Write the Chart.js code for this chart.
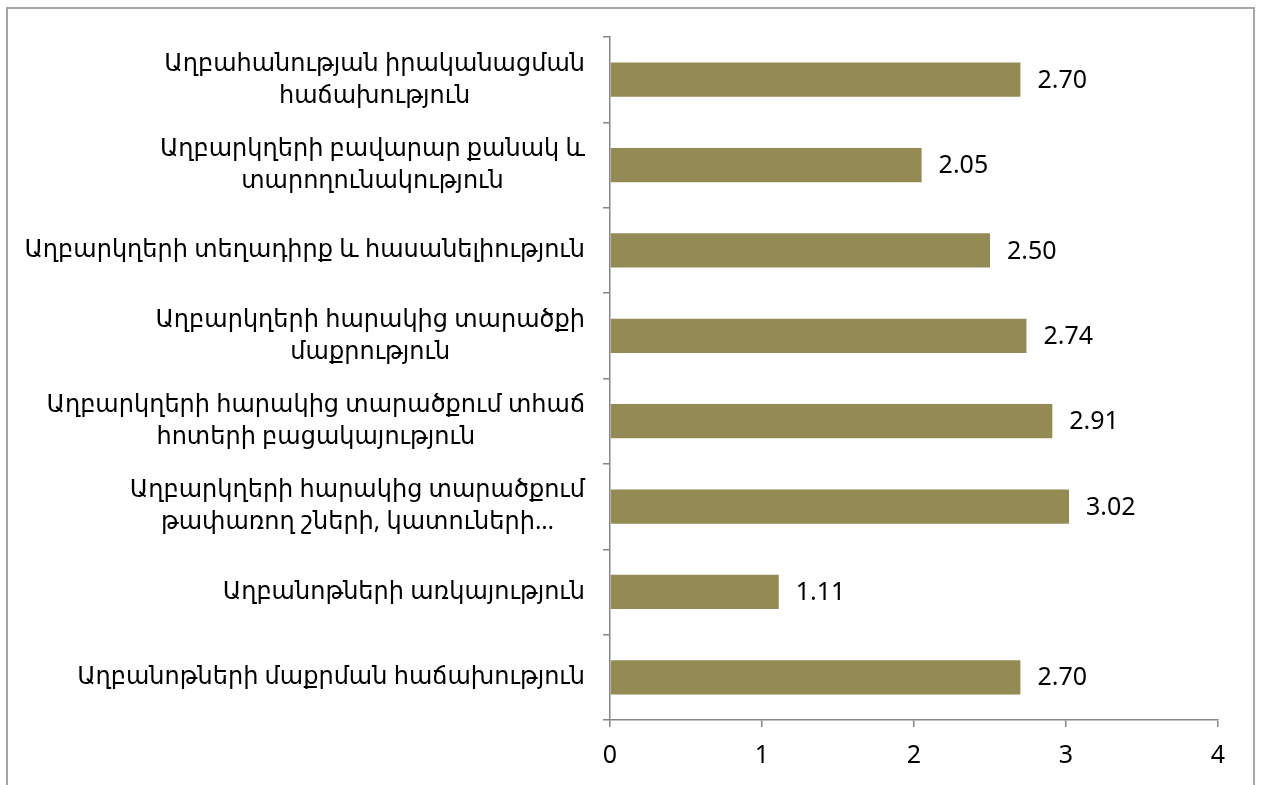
<!DOCTYPE html>
<html>
<head>
<meta charset="utf-8">
<script src="https://cdn.jsdelivr.net/npm/chart.js@4/dist/chart.umd.min.js"></script>
<style>
    html, body { margin: 0; padding: 0; background: #ffffff; }
    #wrap { width: 1262px; height: 785px; }
</style>
</head>
<body>
<div id="wrap"><canvas id="barChart" width="1262" height="785"></canvas></div>
<script>
// categories (top to bottom), each line of a label is an array item
const categories = [
    [`Աղբահանության իրականացման`, `հաճախություն`],
    [`Աղբարկղերի բավարար քանակ և`, `տարողունակություն`],
    [`Աղբարկղերի տեղադիրք և հասանելիություն`],
    [`Աղբարկղերի հարակից տարածքի`, `մաքրություն`],
    [`Աղբարկղերի հարակից տարածքում տհաճ`, `հոտերի բացակայություն`],
    [`Աղբարկղերի հարակից տարածքում`, `թափառող շների, կատուների…`],
    [`Աղբանոթների առկայություն`],
    [`Աղբանոթների մաքրման հաճախություն`]
]
const values = [2.70, 2.05, 2.50, 2.74, 2.91, 3.02, 1.11, 2.70]
const xTicks = [0, 1, 2, 3, 4]
//
const barColor = `#948A54`
const axisColor = `#868686`
const labelFont = `24px "Noto Sans", "DejaVu Sans", sans-serif`
const numberFont = `25px "Noto Sans", "DejaVu Sans", sans-serif`

// white page + outer frame
const framePlugin = {
    id: `frame`,
    beforeDraw(chart) {
        const ctx = chart.ctx
        ctx.save()
        ctx.fillStyle = `#ffffff`
        ctx.fillRect(0, 0, chart.width, chart.height)
        ctx.strokeStyle = `#a6a6a6`
        ctx.lineWidth = 2
        ctx.strokeRect(7, 8, 1247, 800)
        ctx.restore()
    }
}

// category labels: block right aligned, lines centred inside the block
const categoryLabels = {
    id: `categoryLabels`,
    afterDraw(chart) {
        const ctx = chart.ctx
        const yScale = chart.scales.y
        const rightEdge = yScale.right - 25
        const lineHeight = 32
        ctx.save()
        ctx.font = labelFont
        ctx.fillStyle = `#000000`
        ctx.textAlign = `center`
        ctx.textBaseline = `middle`
        categories.forEach((lines, i) => {
            const widths = lines.map(line => ctx.measureText(line).width)
            const blockWidth = Math.max(...widths)
            const cx = rightEdge - blockWidth / 2
            const cy = yScale.getPixelForValue(i)
            const top = cy - (lines.length - 1) * lineHeight / 2
            lines.forEach((line, k) => {
                ctx.fillText(line, cx, top + k * lineHeight)
            })
        })
        ctx.restore()
    }
}

// value labels at the end of each bar
const valueLabels = {
    id: `valueLabels`,
    afterDatasetsDraw(chart) {
        const ctx = chart.ctx
        const meta = chart.getDatasetMeta(0)
        ctx.save()
        ctx.font = numberFont
        ctx.fillStyle = `#000000`
        ctx.textAlign = `left`
        ctx.textBaseline = `middle`
        meta.data.forEach((bar, i) => {
            ctx.fillText(values[i].toFixed(2), bar.x + 17, bar.y + 1)
        })
        ctx.restore()
    }
}

new Chart(`barChart`, {
    type: `bar`,
    data: {
        labels: categories.map(lines => lines.join(` `)),
        datasets: [{
            data: values,
            backgroundColor: barColor,
            borderWidth: 0,
            barPercentage: 0.4,
            categoryPercentage: 1
        }]
    },
    options: {
        indexAxis: `y`,
        responsive: false,
        animation: false,
        layout: {
            padding: { left: 0, right: 44, top: 37, bottom: 0 }
        },
        plugins: {
            legend: { display: false },
            tooltip: { enabled: false }
        },
        scales: {
            x: {
                min: xTicks[0],
                max: xTicks[xTicks.length - 1],
                afterBuildTicks: scale => {
                    scale.ticks = xTicks.map(v => ({ value: v }))
                },
                afterFit: scale => {
                    scale.height = 65
                },
                border: { color: axisColor, width: 1.5 },
                grid: {
                    drawOnChartArea: false,
                    drawTicks: true,
                    tickLength: 7,
                    color: axisColor,
                    lineWidth: 1.5
                },
                ticks: {
                    color: `#000000`,
                    padding: 14,
                    font: { family: `"Noto Sans", "DejaVu Sans", sans-serif`, size: 25 }
                }
            },
            y: {
                afterFit: scale => {
                    scale.width = 610
                },
                border: { color: axisColor, width: 1.5 },
                grid: {
                    drawOnChartArea: false,
                    drawTicks: true,
                    tickLength: 7,
                    color: axisColor,
                    lineWidth: 1.5
                },
                ticks: { display: false }
            }
        }
    },
    plugins: [framePlugin, categoryLabels, valueLabels]
})
</script>
</body>
</html>
